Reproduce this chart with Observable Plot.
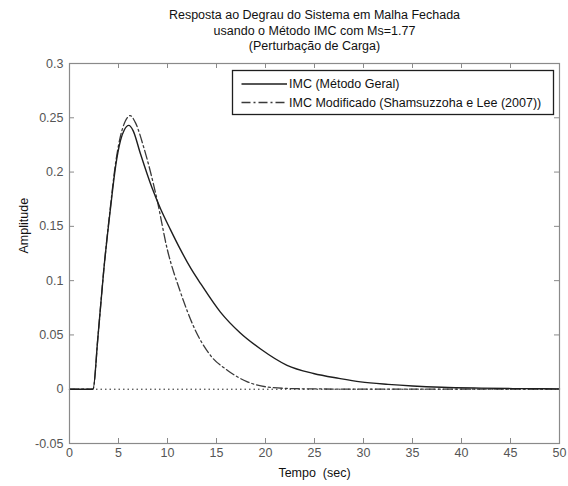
<!DOCTYPE html>
<html>
<head>
<meta charset="utf-8">
<script src="https://cdn.jsdelivr.net/npm/d3@7"></script>
<script src="https://cdn.jsdelivr.net/npm/@observablehq/plot@0.6"></script>
<style>
  html, body { margin: 0; padding: 0; background: #fff; }
  #chart { position: relative; width: 568px; height: 486px; }
</style>
</head>
<body>
<div id="chart"></div>
<script>
const titleLines = [
  "Resposta ao Degrau do Sistema em Malha Fechada",
  "usando o Método IMC com Ms=1.77",
  "(Perturbação de Carga)"
];
const xLabel = "Tempo  (sec)";
const yLabel = "Amplitude";
const xTicks = [0, 5, 10, 15, 20, 25, 30, 35, 40, 45, 50];
const yTicks = [-0.05, 0, 0.05, 0.1, 0.15, 0.2, 0.25, 0.3];
const seriesNames = ["IMC (Método Geral)", "IMC Modificado (Shamsuzzoha e Lee (2007))"];

const tGeral = [0, 2.4, 2.9, 3.5, 4.2, 4.7, 5.2, 5.6, 6.05, 6.5, 7.2, 8.4, 9.3, 10.3, 11.3, 12.4, 13.4, 15.4, 17.4, 19.5, 22.2, 24.9, 27.5, 29.7, 32.5, 35, 38, 42, 46, 50];
const yGeral = [0, 0, 0.048, 0.11, 0.168, 0.205, 0.229, 0.239, 0.243, 0.238, 0.218, 0.186, 0.166, 0.147, 0.129, 0.111, 0.097, 0.071, 0.052, 0.037, 0.022, 0.0145, 0.010, 0.0068, 0.0045, 0.003, 0.0018, 0.001, 0.0005, 0.0003];

const tMod = [0, 2.4, 2.9, 3.5, 4.2, 4.7, 5.2, 5.7, 6.2, 6.7, 7.6, 8.9, 10, 11.3, 12.7, 14.4, 16.1, 18.1, 20.2, 23, 26, 30, 35, 40, 45, 50];
const yMod = [0, 0, 0.048, 0.11, 0.17, 0.208, 0.233, 0.247, 0.252, 0.246, 0.222, 0.176, 0.128, 0.09, 0.057, 0.031, 0.0175, 0.007, 0.002, 0.0005, 0.0002, 0, 0, 0, 0, 0];

const geral = tGeral.map((t, i) => ({t, y: yGeral[i]}));
const mod = tMod.map((t, i) => ({t, y: yMod[i]}));

const W = 568, H = 486;
const mL = 69, mR = 9, mT = 63, mB = 43;
const fw = W - mL - mR, fh = H - mT - mB;
const frameColor = "#8a8a8a";
const labelColor = "#555";
const titleDy = [-49, -33, -18];
const FS = 12.5;

const chart = Plot.plot({
  width: W,
  height: H,
  marginLeft: mL,
  marginRight: mR,
  marginTop: mT,
  marginBottom: mB,
  style: {fontFamily: "'Liberation Sans', Arial, sans-serif", fontSize: FS + "px", background: "#fff"},
  x: {domain: [0, 50], ticks: xTicks, label: null},
  y: {domain: [-0.05, 0.3], ticks: yTicks, label: null},
  marks: [
    Plot.axisX({ticks: xTicks, tickSize: 0, tickPadding: 5, fill: labelColor, fontSize: FS, label: null, tickFormat: d => String(d)}),
    Plot.axisY({ticks: yTicks, tickSize: 0, tickPadding: 6, fill: labelColor, fontSize: FS, label: null, tickFormat: d => String(+d.toFixed(2))}),
    Plot.ruleX(xTicks.slice(1, -1), {insetTop: fh - 5, stroke: frameColor}),
    Plot.ruleX(xTicks.slice(1, -1), {insetBottom: fh - 5, stroke: frameColor}),
    Plot.ruleY(yTicks.slice(1, -1), {insetRight: fw - 5, stroke: frameColor}),
    Plot.ruleY(yTicks.slice(1, -1), {insetLeft: fw - 5, stroke: frameColor}),
    Plot.ruleY([0], {stroke: "#222", strokeDasharray: "1.5,3", strokeWidth: 1}),
    Plot.line(mod, {x: "t", y: "y", stroke: "#3a3a3a", strokeWidth: 1.3, strokeDasharray: "9,3,2,3", curve: "monotone-x"}),
    Plot.line(geral, {x: "t", y: "y", stroke: "#1e1e1e", strokeWidth: 1.4, curve: "monotone-x"}),
    Plot.frame({stroke: frameColor, strokeWidth: 1.2}),
    Plot.text([xLabel], {frameAnchor: "bottom", dy: 29, fill: "#111", fontSize: FS, lineAnchor: "middle"}),
    Plot.text([yLabel], {frameAnchor: "left", dx: -46, rotate: -90, fill: "#111", fontSize: FS}),
    ...titleLines.map((line, i) => Plot.text([line], {frameAnchor: "top", dy: titleDy[i], fill: "#111", fontSize: FS, lineAnchor: "middle"}))
  ]
});

document.getElementById("chart").appendChild(chart);
const svg = d3.select(chart);

// Legend box
const legend = svg.append("g")
  .attr("font-family", "'Liberation Sans', Arial, sans-serif")
  .attr("font-size", FS)
  .attr("text-anchor", "start");
const lx0 = 232.5, lx1 = 553.5, ly0 = 70.5, ly1 = 114.5;
legend.append("rect").attr("x", lx0).attr("y", ly0).attr("width", lx1 - lx0).attr("height", ly1 - ly0)
  .attr("fill", "#fff").attr("stroke", "#1e1e1e").attr("stroke-width", 1.3);
const rows = [
  {name: seriesNames[0], y: 84, stroke: "#1e1e1e", dash: null},
  {name: seriesNames[1], y: 102.5, stroke: "#3a3a3a", dash: "9,3,2,3"}
];
rows.forEach(r => {
  legend.append("line").attr("x1", 241.5).attr("x2", 287).attr("y1", r.y).attr("y2", r.y)
    .attr("stroke", r.stroke).attr("stroke-width", 1.3).attr("stroke-dasharray", r.dash);
  legend.append("text").attr("x", 289).attr("y", r.y).attr("dy", "0.35em")
    .attr("text-anchor", "start").attr("fill", "#111").text(r.name);
});
</script>
</body>
</html>
